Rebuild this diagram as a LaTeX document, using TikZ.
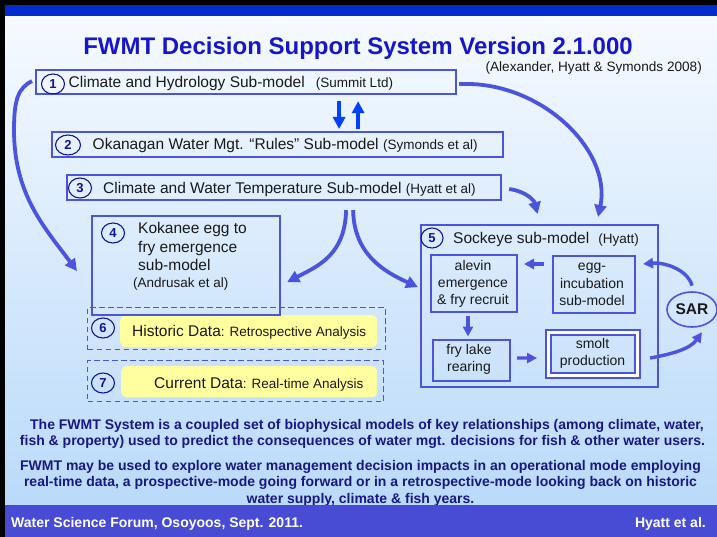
\documentclass[tikz,border=0pt]{standalone}
\usepackage{fontspec}
\setmainfont{Liberation Sans}
\usetikzlibrary{arrows.meta,shapes.geometric,calc}

\definecolor{frameblue}{RGB}{0,44,208}
\definecolor{footblue}{RGB}{72,76,212}
\definecolor{boxblue}{RGB}{74,84,220}
\definecolor{brightblue}{RGB}{0,64,255}
\definecolor{titleblue}{RGB}{22,22,200}
\definecolor{numblue}{RGB}{20,20,150}
\definecolor{navy}{RGB}{24,24,128}
\definecolor{ink}{RGB}{25,25,25}
\definecolor{paleyellow}{RGB}{255,255,160}
\definecolor{bgtop}{RGB}{246,250,255}
\definecolor{bgbot}{RGB}{186,218,250}

\newcommand{\fsz}[2]{\fontsize{#1}{#2}\selectfont}

\begin{document}
\begin{tikzpicture}[x=1pt,y=-1pt,
  mbox/.style={draw=boxblue, line width=2.2pt, inner sep=0pt, anchor=north west},
  dbox/.style={draw=boxblue, line width=1.2pt, dash pattern=on 5.5pt off 3.5pt, inner sep=0pt, anchor=north west},
  ybox/.style={fill=paleyellow, rounded corners=5pt, inner sep=0pt, anchor=north west},
  num/.style={ellipse, draw=numblue, line width=1.1pt, text=numblue, font=\bfseries\fsz{13}{13}, inner sep=0pt, minimum width=23pt, minimum height=20pt},
  lbl/.style={text=ink, inner sep=0pt, anchor=base west},
  ctr/.style={text=ink, inner sep=0pt, align=center, anchor=base, font=\fsz{14}{17}},
  para/.style={text=navy, inner sep=0pt, align=center, anchor=base, font=\bfseries\fsz{14}{16.3}},
  foot/.style={text=white, inner sep=0pt, font=\bfseries\fsz{14}{14}},
  arr/.style={draw=boxblue, line width=3.8pt, -{Triangle[length=12pt,width=12pt]}},
  arrs/.style={draw=boxblue, line width=3.4pt, -{Triangle[length=10pt,width=10pt]}},
  arrb/.style={draw=brightblue, line width=4pt, -{Triangle[length=12pt,width=12pt]}},
]
\useasboundingbox (0,0) rectangle (717,537);

% slide backdrop
\fill[black] (0,0) rectangle (717,537);
\shade[top color=bgtop, bottom color=bgbot] (5,16) rectangle (717,505);
\fill[frameblue] (5,5) rectangle (717,16);

% heading
\node[font=\bfseries\fsz{24}{24}, text=titleblue, inner sep=0pt, anchor=base] (title) at (358,54.5) {FWMT Decision Support System Version 2.1.000};
\node[lbl, anchor=base east, font=\fsz{13.6}{14}] (cite) at (702,72) {(Alexander, Hyatt \& Symonds 2008)};

% sub-model boxes
\node[mbox, minimum width=420pt, minimum height=24pt] (b1) at (35,69) {};
\node[num] (n1) at (53,84) {1};
\node[lbl] (t1) at (68.5,87.5) {\fsz{15.5}{18}Climate and Hydrology Sub-model\hspace{11pt}{\fsz{13.5}{16}(Summit Ltd)}};

\node[mbox, minimum width=451pt, minimum height=25pt] (b2) at (51,131) {};
\node[num, minimum width=25pt] (n2) at (68,145) {2};
\node[lbl] (t2) at (92.5,150) {\fsz{15.5}{18}Okanagan Water Mgt. “Rules” Sub-model {\fsz{13.5}{16}(Symonds et al)}};

\node[mbox, minimum width=434pt, minimum height=25pt] (b3) at (66,174) {};
\node[num] (n3) at (80,188) {3};
\node[lbl] (t3) at (103,193.3) {\fsz{15.5}{18}Climate and Water Temperature Sub-model {\fsz{13.5}{16}(Hyatt et al)}};

% data-mode panels
\node[dbox, minimum width=298pt, minimum height=42pt] (d6) at (87,307) {};
\node[ybox, minimum width=257pt, minimum height=32pt] (y6) at (120,315) {};
\node[num] (n6) at (103,328) {6};
\node[lbl] (t6) at (132,336) {\fsz{15.5}{18}Historic Data{\fsz{13.5}{16}: Retrospective Analysis}};

\node[dbox, minimum width=296pt, minimum height=41pt] (d7) at (87,360) {};
\node[ybox, minimum width=256pt, minimum height=31pt] (y7) at (121,366) {};
\node[num] (n7) at (103,383) {7};
\node[lbl] (t7) at (154,388.3) {\fsz{15.5}{18}Current Data{\fsz{13.5}{16}: Real-time Analysis}};

% kokanee sub-model
\node[mbox, minimum width=188pt, minimum height=99pt] (b4) at (91,215) {};
\node[num] (n4) at (113,233) {4};
\node[lbl] (t4a) at (138,234) {\fsz{15.5}{18}Kokanee egg to};
\node[lbl] (t4b) at (138,252.5) {\fsz{15.5}{18}fry emergence};
\node[lbl] (t4c) at (138,271) {\fsz{15.5}{18}sub-model};
\node[lbl] (t4d) at (133,287.5) {\fsz{13.5}{16}(Andrusak et al)};

% sockeye sub-model
\node[mbox, minimum width=237pt, minimum height=162pt] (b5) at (420,224) {};
\node[num, minimum width=22pt] (n5) at (432,238) {5};
\node[lbl] (t5) at (453,243.3) {\fsz{15.5}{18}Sockeye sub-model\hspace{9pt}{\fsz{13.5}{16}(Hyatt)}};

% multi-line labels sit on the baseline of their last line
\node[mbox, line width=2pt, minimum width=86pt, minimum height=57pt] (alevin) at (430,254) {};
\node[ctr] (talevin) at (473,304) {alevin\\emergence\\\& fry recruit};
\node[mbox, line width=2pt, minimum width=82pt, minimum height=57pt] (egg) at (552,255) {};
\node[ctr] (tegg) at (592,305) {egg-\\incubation\\sub-model};
\node[mbox, line width=2pt, minimum width=77pt, minimum height=41pt] (fry) at (432,339) {};
\node[ctr] (tfry) at (469,371.7) {fry lake\\rearing};
\node[mbox, line width=2.1pt, double=white, double distance=2.2pt, minimum width=89pt, minimum height=43pt] (smolt) at (547.5,331.5) {};
\node[ctr] (tsmolt) at (592.5,365.7) {smolt\\production};

\node[ellipse, draw=boxblue, line width=1.6pt, inner sep=0pt, minimum width=50pt, minimum height=35pt, font=\bfseries\fsz{15.5}{16}, text=ink] (sar) at (692,309.5) {SAR};

% exchange between hydrology and rules models
\draw[arrb] ($(b1.south)+(93,6)$) -- ($(b2.north)+(61.5,-2)$);
\draw[arrb] ($(b2.north)+(80.5,-2)$) -- ($(b1.south)+(112,6)$);

% flows between sub-models
\draw[arr] ($(b1.west)+(-3,-1)$) .. controls (18,88) and (14,100) .. (14,130)
           .. controls (14,195) and (45,228) .. ($(b4.west)+(-14,5.5)$);
\draw[arr] ($(b1.east)+(2,2)$) .. controls (540,80) and (612,150) .. ($(b5.north)+(58.5,-7)$);
\draw[arr] ($(b3.east)+(7,1.5)$) .. controls (525,191) and (534,200) .. ($(b5.north)+(-2,-10)$);
\draw[arr] ($(b3.south)+(62,9)$) .. controls (345,255) and (318,266) .. ($(b4.east)+(6,16.5)$);
\draw[arr] ($(b3.south)+(69,9)$) .. controls (354,255) and (385,272) .. ($(b5.west)+(-2,-19)$);

% life-cycle loop
\draw[arrs] ($(egg.west)+(-8,-20.5)$) -- ($(alevin.east)+(6,-19.5)$);
\draw[arrs] ($(alevin.south)+(-6,3)$) -- ($(fry.north)+(-3.5,-2.5)$);
\draw[arrs] ($(fry.east)+(6,-2.5)$) -- ($(smolt.west)+(-10.5,4)$);
\draw[arrs] ($(smolt.east)+(11.5,4)$) .. controls (672,354) and (690,349) .. ($(sar.south)+(10,4.5)$);
\draw[arrs] ($(sar.north)+(0,-5.5)$) .. controls (688,270) and (665,262) .. ($(egg.east)+(7,-20.5)$);

% summary text
\node[para] (p1) at (362.5,445.8) {\hspace{9pt}The FWMT System is a coupled set of biophysical models of key relationships (among climate, water,\\fish \& property) used to predict the consequences of water mgt. decisions for fish \& other water users.};
\node[para] (p2) at (360.5,503) {FWMT may be used to explore water management decision impacts in an operational mode employing\\real-time data, a prospective-mode going forward or in a retrospective-mode looking back on historic\\water supply, climate \& fish years.};

% footer
\fill[footblue] (5,505) rectangle (717,537);
\node[foot, anchor=base west] (f1) at (11,527.5) {Water Science Forum, Osoyoos, Sept. 2011.};
\node[foot, anchor=base east] (f2) at (706,527.5) {Hyatt et al.};
\end{tikzpicture}
\end{document}
